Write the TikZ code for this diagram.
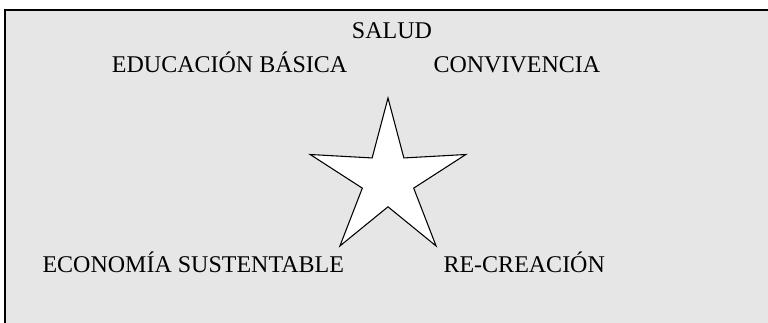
\documentclass[tikz,border=0pt]{standalone}
\usepackage{fontspec}
\setmainfont{Liberation Serif}
\usetikzlibrary{shapes.geometric}
\definecolor{panelgray}{RGB}{230,230,230}

\begin{document}
\begin{tikzpicture}[x=0.75pt,y=-0.75pt,lbl/.style={anchor=base west,inner sep=0pt,font=\fontsize{18}{20}\selectfont},estrella/.style={star,star points=5,star point ratio=3.03,minimum size=122.7pt,inner sep=0pt,draw=black,fill=white,line width=0.8pt}]
\useasboundingbox (0,0) rectangle (768,323);
\fill[white] (0,0) rectangle (768,323);
\draw[fill=panelgray,line width=1.5pt] (5,10) rectangle (790,345);
\node[estrella](centro) at (388,179.8){};
\node[lbl](salud) at (351.7,39){SALUD};
\node[lbl](educ) at (111.7,72.5){EDUCACIÓN BÁSICA};
\node[lbl](conv) at (433.3,72.5){CONVIVENCIA};
\node[lbl](econ) at (42.3,272.7){ECONOMÍA SUSTENTABLE};
\node[lbl](recr) at (443.3,272.7){RE-CREACIÓN};
\end{tikzpicture}
\end{document}
